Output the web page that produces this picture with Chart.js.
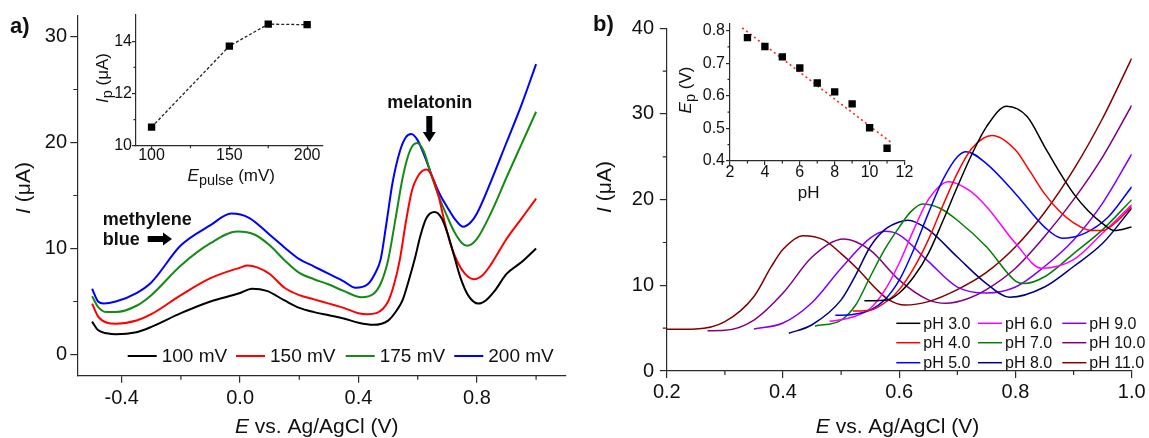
<!DOCTYPE html>
<html>
<head>
<meta charset="utf-8">
<script src="https://cdn.jsdelivr.net/npm/chart.js@4.4.1/dist/chart.umd.min.js"></script>
<style>
  html, body { margin: 0; padding: 0; background: #fff; }
  #wrap { position: relative; width: 1149px; height: 438px; overflow: hidden; }
  canvas { position: absolute; }
</style>
</head>
<body>
<div id="wrap">
  <canvas id="mainA" width="580" height="438" style="left:0;top:0;width:580px;height:438px"></canvas>
  <canvas id="insetA" width="250" height="200" style="left:85px;top:0;width:250px;height:200px"></canvas>
  <canvas id="mainB" width="569" height="438" style="left:580px;top:0;width:569px;height:438px"></canvas>
  <canvas id="insetB" width="250" height="210" style="left:670px;top:0;width:250px;height:210px"></canvas>
</div>
<script>
const FONT = "'Liberation Sans', Arial, Helvetica, sans-serif";
const AXIS = '#2b2b2b';
const INK = '#111';

// ---- panel a: DPV curves at different pulse amplitudes ----
const pulseLabels = ['100 mV', '150 mV', '175 mV', '200 mV'];
const pulseColors = ['#000000', '#ff0000', '#158a15', '#0000ff'];

const eA100 = [-0.5, -0.48, -0.45, -0.42, -0.35, -0.3, -0.2, -0.1, 0, 0.04, 0.09, 0.15, 0.2, 0.25, 0.3, 0.35, 0.4, 0.45, 0.5, 0.53, 0.55, 0.57, 0.59, 0.61, 0.63, 0.657, 0.68, 0.7, 0.72, 0.745, 0.77, 0.805, 0.83, 0.86, 0.9, 0.95, 1.0];
const iA100 = [3.1, 2.3, 2.0, 1.9, 2.1, 2.6, 3.9, 5.0, 5.8, 6.2, 6.0, 5.1, 4.4, 4.0, 3.7, 3.4, 3.0, 2.8, 3.2, 4.2, 5.2, 7.0, 9.0, 11.3, 12.9, 13.45, 12.9, 11.5, 9.6, 7.2, 5.6, 4.8, 5.1, 6.0, 7.6, 8.7, 10.0];

const eA150 = [-0.5, -0.48, -0.45, -0.42, -0.35, -0.3, -0.2, -0.1, 0, 0.025, 0.06, 0.1, 0.15, 0.2, 0.25, 0.3, 0.35, 0.4, 0.43, 0.46, 0.5, 0.52, 0.54, 0.56, 0.58, 0.605, 0.631, 0.65, 0.67, 0.69, 0.71, 0.735, 0.76, 0.79, 0.82, 0.85, 0.9, 0.95, 1.0];
const iA150 = [4.8, 3.6, 3.0, 2.9, 3.2, 3.8, 5.6, 7.2, 8.2, 8.4, 8.2, 7.6, 6.3, 5.6, 5.2, 4.8, 4.4, 3.9, 3.8, 3.9, 5.0, 6.6, 9.0, 12.5, 15.4, 17.0, 17.45, 16.7, 15.0, 12.6, 10.5, 8.7, 7.6, 7.1, 7.5, 8.6, 10.9, 12.8, 14.7];

const eA175 = [-0.5, -0.48, -0.45, -0.42, -0.35, -0.3, -0.2, -0.1, -0.01, 0.05, 0.1, 0.15, 0.2, 0.25, 0.3, 0.35, 0.41, 0.45, 0.475, 0.5, 0.525, 0.55, 0.575, 0.598, 0.62, 0.645, 0.67, 0.7, 0.725, 0.75, 0.768, 0.8, 0.85, 0.9, 0.95, 1.0];
const iA175 = [5.5, 4.5, 4.0, 4.0, 4.6, 5.6, 8.4, 10.5, 11.6, 11.3, 10.3, 8.9, 7.7, 7.1, 6.6, 6.0, 5.4, 5.7, 6.7, 8.9, 12.8, 16.8, 19.3, 19.95, 19.2, 17.0, 15.0, 13.0, 11.5, 10.5, 10.25, 10.9, 13.5, 16.7, 19.8, 22.9];

const eA200 = [-0.5, -0.48, -0.46, -0.42, -0.35, -0.3, -0.2, -0.1, -0.03, 0.03, 0.1, 0.15, 0.2, 0.25, 0.3, 0.35, 0.39, 0.43, 0.455, 0.475, 0.495, 0.515, 0.54, 0.56, 0.578, 0.6, 0.625, 0.65, 0.675, 0.7, 0.725, 0.753, 0.78, 0.8, 0.85, 0.9, 0.95, 1.0];
const iA200 = [6.2, 5.0, 4.8, 5.0, 5.8, 6.8, 10.3, 12.2, 13.3, 12.9, 11.3, 10.1, 9.0, 8.3, 7.6, 6.9, 6.3, 6.6, 7.6, 9.0, 12.5, 16.2, 19.2, 20.5, 20.8, 20.2, 18.6, 16.7, 15.1, 13.9, 12.8, 12.05, 12.5, 13.3, 16.5, 20.0, 23.5, 27.4];

const tickAx = [-0.4, 0, 0.4, 0.8];
const minorAx = [-0.2, 0.2, 0.6, 1.0];
const tickAy = [0, 10, 20, 30];
const minorAy = [5, 15, 25];

// inset a: peak current vs pulse amplitude
const pulseAmp = [100, 150, 175, 200];
const peakCurrent = [10.71, 13.81, 14.65, 14.63];
const tickIAx = [100, 150, 200];
const minorIAx = [125, 175];
const tickIAy = [10, 12, 14];
const minorIAy = [11, 13];

// ---- panel b: DPV curves at different pH ----
const phLabels = ['pH 3.0', 'pH 4.0', 'pH 5.0', 'pH 6.0', 'pH 7.0', 'pH 8.0', 'pH 9.0', 'pH 10.0', 'pH 11.0'];
const phColors = ['#000000', '#ff0000', '#0000ff', '#ff00ff', '#008000', '#000080', '#8000ff', '#800080', '#800000'];

const eB3 = [0.54, 0.58, 0.6, 0.625, 0.65, 0.675, 0.7, 0.725, 0.75, 0.785, 0.82, 0.85, 0.875, 0.9, 0.925, 0.95, 0.97, 1.0];
const iB3 = [8.2, 8.3, 9.1, 11.0, 13.7, 17.5, 21.5, 25.3, 28.5, 30.9, 29.7, 26.2, 23.3, 20.7, 18.7, 17.2, 16.4, 16.8];
const eB4 = [0.52, 0.55, 0.58, 0.6, 0.625, 0.65, 0.675, 0.7, 0.725, 0.76, 0.8, 0.825, 0.85, 0.875, 0.9, 0.93, 0.95, 0.975, 1.0];
const iB4 = [7.0, 7.1, 8.2, 9.5, 12.0, 15.3, 19.3, 23.1, 26.0, 27.5, 25.8, 23.3, 20.7, 18.7, 17.3, 16.4, 16.4, 17.5, 19.2];
const eB5 = [0.49, 0.52, 0.55, 0.575, 0.6, 0.625, 0.65, 0.675, 0.7, 0.715, 0.75, 0.8, 0.85, 0.88, 0.92, 0.96, 1.0];
const iB5 = [6.5, 6.6, 7.1, 8.3, 10.6, 14.2, 18.4, 22.3, 25.0, 25.6, 24.2, 20.7, 16.8, 15.5, 16.1, 18.0, 21.5];
const eB6 = [0.48, 0.52, 0.55, 0.575, 0.6, 0.625, 0.65, 0.685, 0.72, 0.75, 0.8, 0.845, 0.9, 0.95, 1.0];
const iB6 = [5.8, 6.3, 7.3, 9.4, 12.6, 16.5, 20.0, 22.1, 21.1, 19.2, 14.9, 12.0, 13.0, 16.1, 19.4];
const eB7 = [0.455, 0.5, 0.525, 0.55, 0.575, 0.6, 0.62, 0.64, 0.67, 0.7, 0.75, 0.8, 0.815, 0.85, 0.9, 0.95, 1.0];
const iB7 = [5.25, 5.95, 7.7, 11.0, 14.2, 16.8, 18.6, 19.5, 19.0, 17.6, 14.5, 10.5, 10.2, 11.0, 13.7, 16.5, 20.0];
const eB8 = [0.41, 0.45, 0.5, 0.525, 0.55, 0.575, 0.6, 0.615, 0.65, 0.7, 0.75, 0.79, 0.85, 0.9, 0.95, 1.0];
const iB8 = [4.4, 5.4, 8.3, 11.2, 14.5, 16.5, 17.4, 17.6, 16.5, 13.3, 10.2, 8.6, 9.8, 12.2, 14.9, 19.0];
const eB9 = [0.35, 0.4, 0.45, 0.5, 0.55, 0.575, 0.6, 0.65, 0.7, 0.75, 0.8, 0.85, 0.9, 0.95, 1.0];
const iB9 = [4.9, 5.6, 8.0, 12.0, 15.5, 16.3, 15.9, 12.8, 9.8, 9.1, 9.8, 12.2, 15.3, 19.6, 25.3];
const eB10 = [0.27, 0.3, 0.35, 0.4, 0.45, 0.505, 0.55, 0.6, 0.65, 0.68, 0.72, 0.75, 0.8, 0.85, 0.9, 0.95, 1.0];
const iB10 = [4.7, 4.75, 5.95, 9.1, 13.3, 15.4, 14.1, 10.6, 8.3, 7.9, 8.5, 9.5, 12.0, 15.7, 20.0, 25.0, 31.0];
const eB11 = [0.2, 0.25, 0.3, 0.35, 0.38, 0.4, 0.435, 0.47, 0.5, 0.53, 0.56, 0.58, 0.61, 0.65, 0.7, 0.75, 0.8, 0.85, 0.9, 0.95, 1.0];
const iB11 = [4.86, 4.9, 5.76, 8.7, 12.2, 14.2, 15.8, 15.3, 13.7, 11.8, 9.6, 8.4, 7.7, 8.1, 9.5, 11.5, 14.5, 18.5, 23.5, 29.5, 36.5];

const tickBx = [0.2, 0.4, 0.6, 0.8, 1.0];
const minorBx = [0.3, 0.5, 0.7, 0.9];
const tickBy = [0, 10, 20, 30, 40];
const minorBy = [5, 15, 25, 35];

// inset b: peak potential vs pH with linear fit
const phValues = [3, 4, 5, 6, 7, 8, 9, 10, 11];
const peakPotential = [0.778, 0.751, 0.719, 0.685, 0.639, 0.612, 0.575, 0.502, 0.439];
const fitPH = [2.7, 11.3];
const fitEp = [0.808, 0.454];
const tickIBx = [2, 4, 6, 8, 10, 12];
const minorIBx = [3, 5, 7, 9, 11];
const tickIBy = [0.4, 0.5, 0.6, 0.7, 0.8];
const minorIBy = [0.45, 0.55, 0.65, 0.75];

Chart.defaults.font.family = FONT;
Chart.defaults.color = INK;

const pts = (xs, ys) => xs.map((x, i) => ({ x: x, y: ys[i] }));

function axis(o) {
  return {
    type: 'linear',
    position: o.pos,
    min: o.min,
    max: o.max,
    afterBuildTicks: s => { s.ticks = o.ticks.map(v => ({ value: v })); },
    afterFit: s => { if (o.pos === 'left') s.width = o.size; else s.height = o.size; },
    grid: { drawOnChartArea: false, drawTicks: true, tickLength: o.tl, color: AXIS, lineWidth: 1.2 },
    border: { display: true, color: AXIS, width: 1.2 },
    ticks: {
      padding: o.pad,
      color: INK,
      autoSkip: false,
      maxRotation: 0,
      font: { family: FONT, size: o.fs, lineHeight: o.lh || 1.2 },
      callback: o.fmt
    },
    title: { display: false }
  };
}

function minorTicks(chart, xs, ys, len) {
  const { ctx, chartArea: a } = chart;
  const sx = chart.scales.x, sy = chart.scales.y;
  ctx.save();
  ctx.strokeStyle = AXIS;
  ctx.lineWidth = 1.2;
  ctx.beginPath();
  xs.forEach(v => {
    const px = sx.getPixelForValue(v);
    ctx.moveTo(px, a.bottom);
    ctx.lineTo(px, a.bottom + len);
  });
  ys.forEach(v => {
    const py = sy.getPixelForValue(v);
    ctx.moveTo(a.left, py);
    ctx.lineTo(a.left - len, py);
  });
  ctx.stroke();
  ctx.restore();
}

// text made of italic / bold / subscript pieces
function rich(ctx, parts, x, y, size, align, rot) {
  ctx.save();
  ctx.translate(x, y);
  if (rot) ctx.rotate(rot);
  ctx.fillStyle = INK;
  ctx.textBaseline = 'alphabetic';
  ctx.textAlign = 'left';
  const fontOf = p => (p.i ? 'italic ' : '') + (p.b ? 'bold ' : '') + (p.sub ? size * 0.85 : size) + 'px ' + FONT;
  let w = 0;
  parts.forEach(p => { ctx.font = fontOf(p); w += ctx.measureText(p.t).width; });
  let cx = align === 'center' ? -w / 2 : align === 'right' ? -w : 0;
  parts.forEach(p => {
    ctx.font = fontOf(p);
    ctx.fillText(p.t, cx, p.sub ? size * 0.22 : 0);
    cx += ctx.measureText(p.t).width;
  });
  ctx.restore();
}

function legendItem(ctx, color, label, x0, x1, tx, y, lw, size) {
  ctx.save();
  ctx.strokeStyle = color;
  ctx.lineWidth = lw;
  ctx.beginPath();
  ctx.moveTo(x0, y);
  ctx.lineTo(x1, y);
  ctx.stroke();
  ctx.fillStyle = INK;
  ctx.font = size + 'px ' + FONT;
  ctx.textBaseline = 'middle';
  ctx.textAlign = 'left';
  ctx.fillText(label, tx, y + 1);
  ctx.restore();
}

function arrowRight(ctx, x0, x1, y, shaft, head, headLen) {
  const xh = x1 - headLen;
  ctx.save();
  ctx.fillStyle = '#000';
  ctx.beginPath();
  ctx.moveTo(x0, y - shaft / 2);
  ctx.lineTo(xh, y - shaft / 2);
  ctx.lineTo(xh, y - head / 2);
  ctx.lineTo(x1, y);
  ctx.lineTo(xh, y + head / 2);
  ctx.lineTo(xh, y + shaft / 2);
  ctx.lineTo(x0, y + shaft / 2);
  ctx.closePath();
  ctx.fill();
  ctx.restore();
}

function arrowDown(ctx, x, y0, y1, shaft, head, headLen) {
  const yh = y1 - headLen;
  ctx.save();
  ctx.fillStyle = '#000';
  ctx.beginPath();
  ctx.moveTo(x - shaft / 2, y0);
  ctx.lineTo(x - shaft / 2, yh);
  ctx.lineTo(x - head / 2, yh);
  ctx.lineTo(x, y1);
  ctx.lineTo(x + head / 2, yh);
  ctx.lineTo(x + shaft / 2, yh);
  ctx.lineTo(x + shaft / 2, y0);
  ctx.closePath();
  ctx.fill();
  ctx.restore();
}

const lineDs = (label, color, xs, ys, w) => ({
  label: label,
  data: pts(xs, ys),
  borderColor: color,
  backgroundColor: color,
  borderWidth: w,
  pointRadius: 0,
  fill: false,
  cubicInterpolationMode: 'monotone'
});

const baseOpts = {
  responsive: false,
  animation: false,
  devicePixelRatio: 1,
  events: [],
  plugins: { legend: { display: false }, tooltip: { enabled: false } }
};

// ---------- panel a ----------
const seriesA = [[eA100, iA100], [eA150, iA150], [eA175, iA175], [eA200, iA200]];
new Chart(document.getElementById('mainA'), {
  type: 'line',
  data: { datasets: seriesA.map((s, k) => lineDs(pulseLabels[k], pulseColors[k], s[0], s[1], 2)) },
  options: Object.assign({}, baseOpts, {
    layout: { padding: { left: 0, top: 15, right: 14.3, bottom: 0 } },
    scales: {
      x: axis({ pos: 'bottom', min: -0.55, max: 1.1, ticks: tickAx, size: 62.3, tl: 7, pad: 3.6, fs: 20, fmt: v => v.toFixed(1) }),
      y: axis({ pos: 'left', min: -2, max: 32, ticks: tickAy, size: 77.3, tl: 7, pad: 3.3, fs: 20, fmt: v => String(v) })
    }
  }),
  plugins: [{
    id: 'decoA',
    afterDraw(c) {
      const ctx = c.ctx;
      minorTicks(c, minorAx, minorAy, 4);
      rich(ctx, [{ t: 'E', i: 1 }, { t: ' vs. Ag/AgCl (V)' }], 316.7, 433, 21, 'center');
      rich(ctx, [{ t: 'I', i: 1 }, { t: ' (\u03bcA)' }], 30, 188, 21, 'center', -Math.PI / 2);
      rich(ctx, [{ t: 'a)', b: 1 }], 10, 33, 22, 'left');
      const lx = [127.7, 236, 345.7, 454.3];
      c.data.datasets.forEach((d, k) => legendItem(ctx, d.borderColor, d.label, lx[k], lx[k] + 29, lx[k] + 34, 356, 2, 19));
      rich(ctx, [{ t: 'methylene', b: 1 }], 102.7, 224.5, 18, 'left');
      rich(ctx, [{ t: 'blue', b: 1 }], 102.7, 244.5, 18, 'left');
      arrowRight(ctx, 147.7, 172, 239, 6, 13, 9);
      rich(ctx, [{ t: 'melatonin', b: 1 }], 387.3, 108, 18, 'left');
      arrowDown(ctx, 429.3, 116, 142, 6, 13, 10);
    }
  }]
});

new Chart(document.getElementById('insetA'), {
  type: 'line',
  data: {
    datasets: [{
      data: pts(pulseAmp, peakCurrent),
      borderColor: '#222',
      borderWidth: 1.3,
      borderDash: [3, 2],
      pointStyle: 'rect',
      pointRadius: 5.2,
      pointBackgroundColor: '#000',
      pointBorderColor: '#000',
      pointBorderWidth: 0,
      tension: 0
    }]
  },
  options: Object.assign({}, baseOpts, {
    layout: { padding: { left: 0, top: 15, right: 12.3, bottom: 0 } },
    scales: {
      x: axis({ pos: 'bottom', min: 90, max: 210, ticks: tickIAx, size: 54.3, tl: 4, pad: -2, fs: 16, lh: 1, fmt: v => String(v) }),
      y: axis({ pos: 'left', min: 10, max: 15, ticks: tickIAy, size: 51, tl: 4, pad: 0, fs: 16, lh: 1, fmt: v => String(v) })
    }
  }),
  plugins: [{
    id: 'decoIA',
    afterDraw(c) {
      const ctx = c.ctx;
      minorTicks(c, minorIAx, minorIAy, 2.5);
      rich(ctx, [{ t: 'E', i: 1 }, { t: 'pulse', sub: 1 }, { t: ' (mV)' }], 146.3, 181, 17, 'center');
      rich(ctx, [{ t: 'I', i: 1 }, { t: 'p', sub: 1 }, { t: ' (\u03bcA)' }], 23, 78, 17, 'center', -Math.PI / 2);
    }
  }]
});

// ---------- panel b ----------
const seriesB = [[eB3, iB3], [eB4, iB4], [eB5, iB5], [eB6, iB6], [eB7, iB7], [eB8, iB8], [eB9, iB9], [eB10, iB10], [eB11, iB11]];
new Chart(document.getElementById('mainB'), {
  type: 'line',
  data: { datasets: seriesB.map((s, k) => lineDs(phLabels[k], phColors[k], s[0], s[1], 1.5)) },
  options: Object.assign({}, baseOpts, {
    layout: { padding: { left: 0, top: 28.3, right: 17.3, bottom: 0 } },
    scales: {
      x: axis({ pos: 'bottom', min: 0.2, max: 1.0, ticks: tickBx, size: 67, tl: 7, pad: 2.5, fs: 20, fmt: v => v.toFixed(1) }),
      y: axis({ pos: 'left', min: 0, max: 40, ticks: tickBy, size: 86.8, tl: 7, pad: 5.7, fs: 20, fmt: v => String(v) })
    }
  }),
  plugins: [{
    id: 'decoB',
    afterDraw(c) {
      const ctx = c.ctx;
      minorTicks(c, minorBx, minorBy, 4);
      rich(ctx, [{ t: 'E', i: 1 }, { t: ' vs. Ag/AgCl (V)' }], 317.5, 433, 21, 'center');
      rich(ctx, [{ t: 'I', i: 1 }, { t: ' (\u03bcA)' }], 31, 187, 21, 'center', -Math.PI / 2);
      rich(ctx, [{ t: 'b)', b: 1 }], 13, 31, 22, 'left');
      const tx = [343.3, 425, 509.3];
      const ty = [323.3, 342.7, 362.7];
      c.data.datasets.forEach((d, k) => {
        const col = Math.floor(k / 3), row = k % 3;
        legendItem(ctx, d.borderColor, d.label, tx[col] - 27, tx[col] - 3, tx[col], ty[row], 1.5, 16);
      });
    }
  }]
});

new Chart(document.getElementById('insetB'), {
  type: 'line',
  data: {
    datasets: [{
      data: pts(phValues, peakPotential),
      showLine: false,
      pointStyle: 'rect',
      pointRadius: 5.2,
      pointBackgroundColor: '#000',
      pointBorderColor: '#000',
      pointBorderWidth: 0
    }, {
      data: pts(fitPH, fitEp),
      borderColor: '#ff2020',
      borderWidth: 1.6,
      borderDash: [2, 3],
      pointRadius: 0,
      tension: 0
    }]
  },
  options: Object.assign({}, baseOpts, {
    layout: { padding: { left: 0, top: 23.3, right: 15.5, bottom: 0 } },
    scales: {
      x: axis({ pos: 'bottom', min: 2, max: 12, ticks: tickIBx, size: 49, tl: 4, pad: -0.5, fs: 16, lh: 1, fmt: v => String(v) }),
      y: axis({ pos: 'left', min: 0.4, max: 0.822, ticks: tickIBy, size: 60, tl: 4, pad: 1, fs: 16, lh: 1, fmt: v => v.toFixed(1) })
    }
  }),
  plugins: [{
    id: 'decoIB',
    afterDraw(c) {
      const ctx = c.ctx;
      minorTicks(c, minorIBx, minorIBy, 2.5);
      rich(ctx, [{ t: 'pH' }], 138.6, 198, 17, 'center');
      rich(ctx, [{ t: 'E', i: 1 }, { t: 'p', sub: 1 }, { t: ' (V)' }], 21, 90, 17, 'center', -Math.PI / 2);
    }
  }]
});
</script>
</body>
</html>
